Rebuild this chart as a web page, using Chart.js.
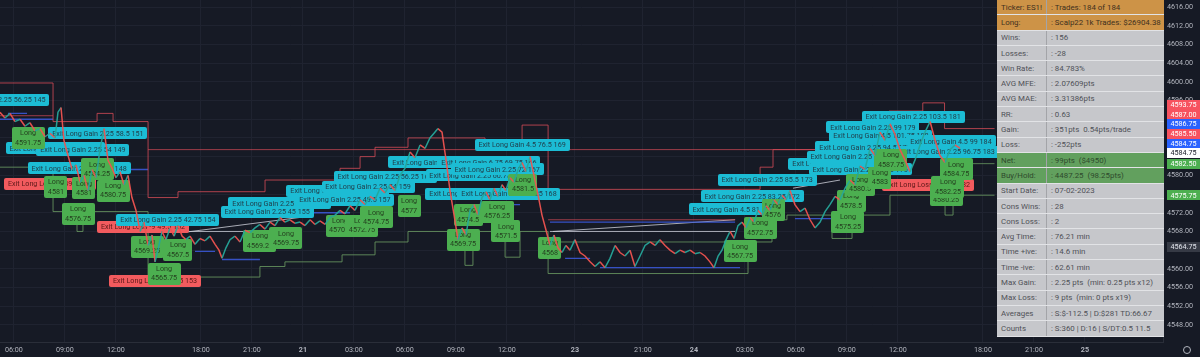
<!DOCTYPE html>
<html>
<head>
<meta charset="utf-8">
<title>ES1! Scalp22</title>
<script src="https://cdn.jsdelivr.net/npm/chart.js@4.4.1/dist/chart.umd.min.js"></script>
<style>
  html, body { margin: 0; padding: 0; background: #161a25; overflow: hidden; }
  #wrap { position: relative; width: 1200px; height: 357px; }
  #stats { position: absolute; left: 997px; top: 0; width: 167px; font-family: Roboto, sans-serif; font-size: 7.9px; }
  .row { display: flex; height: 15.3px; box-sizing: border-box; border-bottom: 1px solid #e2e3e6; background: #c6c7cb; color: #4f5157; }
  .row div { display: flex; align-items: center; padding-left: 4px; box-sizing: border-box; white-space: pre; }
  .row .k { width: 50px; flex: none; border-right: 1px solid #a3a4a8; }
  .row.orange { background: #cd9347; color: #3e3020; }
  .row.green { background: #62a05e; color: #2e4a2c; }
  #gear { position: absolute; left: 1183px; top: 346px; width: 6px; height: 6px; border: 1px solid #b2b5be; border-radius: 50%; }
</style>
</head>
<body>
<div id="wrap">
  <canvas id="chart" width="1200" height="357"></canvas>
  <div id="stats"></div>
  <div id="gear"></div>
</div>
<script>
// time axis (trading hours from the left edge)
const tickHours = [0.82, 3.82, 6.82, 11.82, 14.82, 17.82, 20.82, 23.82, 26.82, 29.82, 33.82, 37.82, 40.82, 43.82, 46.82, 49.82, 52.82, 57.82, 60.82, 63.82];
const tickTexts = ["06:00", "09:00", "12:00", "18:00", "21:00", "21", "03:00", "06:00", "09:00", "12:00", "23", "21:00", "24", "03:00", "06:00", "09:00", "12:00", "18:00", "21:00", "25"];
const priceTicks = [4548, 4552, 4556, 4560, 4564, 4568, 4572, 4576, 4580, 4584, 4588, 4592, 4596, 4600, 4604, 4608, 4612, 4616];

// ES1! price path
const priceHours = [
  0.00, 0.29, 0.59, 0.88, 1.18, 1.47, 1.76, 2.06, 2.35, 2.65,
  2.94, 3.24, 3.41, 3.59, 3.76, 4.00, 4.24, 4.47, 4.71, 4.94,
  5.18, 5.41, 5.65, 5.88, 6.12, 6.35, 6.59, 6.82, 7.06, 7.29,
  7.53, 7.76, 8.00, 8.24, 8.47, 8.71, 8.94, 9.12, 9.29, 9.53,
  9.76, 10.00, 10.24, 10.47, 10.71, 10.94, 11.18, 11.47, 11.76, 12.06,
  12.35, 12.65, 12.88, 13.06, 13.29, 13.53, 13.82, 14.12, 14.41, 14.71,
  15.00, 15.29, 15.59, 15.88, 16.18, 16.47, 16.76, 17.06, 17.35, 17.65,
  17.94, 18.24, 18.53, 18.82, 19.12, 19.41, 19.71, 20.00, 20.29, 20.59,
  20.88, 21.18, 21.47, 21.76, 22.06, 22.35, 22.65, 22.94, 23.24, 23.53,
  23.82, 24.12, 24.41, 24.71, 25.00, 25.29, 25.53, 25.76, 26.00, 26.24,
  26.47, 26.71, 26.94, 27.18, 27.41, 27.65, 27.88, 28.12, 28.35, 28.59,
  28.82, 29.06, 29.29, 29.53, 29.76, 30.00, 30.24, 30.47, 30.71, 30.94,
  31.18, 31.41, 31.65, 31.88, 32.12, 32.35, 32.59, 32.82, 33.06, 33.29,
  33.53, 33.82, 34.12, 34.41, 34.71, 35.00, 35.29, 35.59, 35.88, 36.18,
  36.47, 36.76, 37.06, 37.35, 37.65, 37.94, 38.24, 38.53, 38.82, 39.12,
  39.41, 39.71, 40.00, 40.29, 40.59, 40.88, 41.18, 41.47, 41.76, 42.00,
  42.24, 42.47, 42.71, 42.94, 43.18, 43.41, 43.65, 43.88, 44.12, 44.35,
  44.59, 44.82, 45.06, 45.29, 45.53, 45.76, 46.00, 46.24, 46.47, 46.76,
  47.06, 47.35, 47.65, 47.94, 48.24, 48.53, 48.82, 49.12, 49.41, 49.71,
  50.00, 50.29, 50.59, 50.88, 51.18, 51.47, 51.76, 52.06, 52.35, 52.65,
  52.94, 53.24, 53.53, 53.82, 54.12, 54.41, 54.71, 55.00, 55.29, 55.59,
  55.88, 56.18, 56.47
];
const priceCloses = [
  4593.5, 4592.25, 4593.25, 4591.5, 4592, 4590.5, 4591.25, 4589.5, 4590, 4588.25,
  4589, 4588, 4593.5, 4594.5, 4587.5, 4584.25, 4581.25, 4582.25, 4578.5, 4580,
  4576.75, 4581.25, 4579.5, 4585.5, 4590, 4583.25, 4581.5, 4579.5, 4580.75, 4578,
  4580, 4575.25, 4572.5, 4568, 4570, 4565, 4567.25, 4561.5, 4564, 4568,
  4566.25, 4568.75, 4567, 4569.25, 4567, 4566.25, 4567, 4565.25, 4566.5, 4566,
  4567, 4565.25, 4564, 4562.25, 4564.5, 4566.25, 4567, 4565.75, 4568.25, 4567.75,
  4568.75, 4569.5, 4568.5, 4570, 4569.25, 4571, 4570, 4570.5, 4569.75, 4570,
  4569.25, 4570.5, 4569.5, 4570.25, 4569.5, 4571, 4571.5, 4572.5, 4571.75, 4573.5,
  4572.5, 4574.75, 4573.75, 4575.5, 4574.75, 4577.25, 4576.25, 4578, 4576.75, 4580,
  4581.5, 4585, 4583.75, 4586.5, 4585.75, 4588, 4589, 4590, 4589.25, 4583.25,
  4576.75, 4571.5, 4566.25, 4568.75, 4567.25, 4572.5, 4573.75, 4571.5, 4575.25, 4576.5,
  4574.75, 4577.25, 4575.5, 4578, 4576.75, 4579.5, 4578.5, 4581.25, 4582.75, 4580.75,
  4584, 4580, 4575.75, 4571.5, 4568.25, 4565, 4567.25, 4564.5, 4563.5, 4565,
  4564, 4566.25, 4563.5, 4562.75, 4561.5, 4560.5, 4561.5, 4560.25, 4562.25, 4565,
  4563.5, 4562.75, 4564, 4560.5, 4562.75, 4565, 4565.75, 4565, 4566.25, 4565,
  4564, 4563.25, 4564, 4563.5, 4564, 4563.25, 4563.5, 4562.75, 4561.5, 4560.25,
  4562.75, 4564, 4566.25, 4568, 4566.5, 4569.25, 4570, 4568.75, 4571, 4570,
  4572.5, 4571.5, 4573.5, 4572.5, 4574.75, 4573.75, 4575.75, 4574.75, 4576.75, 4573.75,
  4572.25, 4573, 4570.5, 4568.75, 4570, 4572.25, 4573.75, 4575.5, 4574.75, 4577.25,
  4579, 4578, 4582, 4581.25, 4585.75, 4584.25, 4589.25, 4587.5, 4591, 4588.75,
  4585.5, 4583.25, 4580.75, 4583.25, 4586.5, 4589.25, 4591.5, 4587.5, 4584.25, 4582.75,
  4585.5, 4586.5, 4585.75
];

// strategy levels (step lines)
const targetHours = [0, 3.12, 5.71, 6.65, 8.71, 10.47, 15.59, 20.00, 21.18, 22.06, 24.00, 28.53, 30.71, 32.24, 44.71, 45.47, 52.29, 54.28, 55.56, 58.5];
const targetLevels = [4599.75, 4591.5, 4593.25, 4591.5, 4575.25, 4576.5, 4579, 4581.5, 4584, 4586, 4588, 4585.5, 4590.75, 4577, 4581.75, 4585.5, 4593.75, 4595.5, 4590, 4590];
const stopHours = [0, 3.12, 4.53, 4.88, 8.71, 15.29, 16.76, 20.12, 22.06, 24.00, 27.35, 27.82, 29.71, 30.59, 32.24, 44.00, 45.41, 46.29, 48.94, 50.12, 52.35, 55.59, 56.06, 58.5];
const stopLevels = [4581.75, 4572.25, 4568, 4572.25, 4558.25, 4560.5, 4561.5, 4563, 4565.75, 4568, 4560.75, 4568, 4562.5, 4568, 4559, 4565.75, 4570.5, 4571.5, 4566.5, 4571.5, 4575.75, 4571.5, 4575.75, 4575.75];
// [from, to, level]
const redLevels = [[8.71, 58.5, 4585.5], [32.24, 43.24, 4570.5], [0, 3.12, 4592.75], [55.56, 58.5, 4587]];
const greenLevels = [[32.24, 43.24, 4565.75], [56.47, 58.5, 4582.5]];
const blueLevels = [[0.47, 1.59, 4593.25], [0, 3.12, 4592], [6.65, 8.71, 4581.25], [11.47, 12.65, 4563.75], [13.06, 15.29, 4562],
  [17.65, 20.59, 4572], [29.41, 30.59, 4573.75], [33.24, 34.71, 4562.25], [35.29, 43.53, 4560.25], [32.35, 43.24, 4570],
  [46.76, 49.12, 4570.75], [52.94, 58.5, 4586.75], [51.18, 58.5, 4584.75]];
// [from, price, to, price]
const whiteLinks = [[10.71, 4567.75, 17.65, 4571], [10.59, 4568, 15.29, 4568], [32.53, 4568, 43.24, 4570.5],
  [32.35, 4568, 43.24, 4568], [46.65, 4577.25, 49.41, 4579], [52.94, 4584.75, 58.5, 4584.75]];

// trade labels
const lossHours = [2.94, 8.41, 9.12, 54.59];
const lossPrices = [4578.25, 4569, 4557.5, 4578];
const lossTexts = ["Exit Long Loss -9 49.5 147", "Exit Long Loss -9 49.5 152", "Exit Long Loss -9 40.5 153", "Exit Long Loss -9 94.5 182"];

const gainHours = [-0.12, 3.24, 4.65, 4.88, 5.76, 9.88, 15.71, 16.47, 20.29, 19.88, 21.65, 22.65, 27.94, 28.06, 25.29, 28.76,
  29.24, 29.94, 30.71, 43.12, 44.24, 45.12, 49.41, 50.18, 50.59, 50.88, 51.35, 51.82, 53.71, 55.71, 55.94];
const gainPrices = [4596.1, 4585.75, 4581.5, 4585.5, 4589, 4570.5, 4572.25, 4574, 4574.75, 4576.75, 4577.5, 4579.75, 4576, 4580, 4582.75, 4582.75,
  4581.25, 4576, 4586.5, 4572.75, 4575.5, 4579, 4582.5, 4584, 4581.25, 4586, 4590.25, 4588.5, 4592.5, 4585, 4587.25];
const gainTexts = [
  "Exit Long Gain 2.25 56.25 145", "Exit Long Gain 2.25 58.5 146", "Exit Long Gain 2.25 51.75 148", "Exit Long Gain 2.25 54 149",
  "Exit Long Gain 2.25 58.5 151", "Exit Long Gain 2.25 42.75 154", "Exit Long Gain 2.25 45 155", "Exit Long Gain 2.25 47.25 156",
  "Exit Long Gain 2.25 49.5 157", "Exit Long Gain 2.25 51.75 158", "Exit Long Gain 2.25 54 159", "Exit Long Gain 2.25 56.25 160",
  "Exit Long Gain 2.25 58.5 161", "Exit Long Gain 2.25 60.75 162", "Exit Long Gain 7 63 165", "Exit Long Gain 6.75 69.75 166",
  "Exit Long Gain 2.25 72 167", "Exit Long Gain 2.25 74.25 168", "Exit Long Gain 4.5 76.5 169", "Exit Long Gain 4.5 81 171",
  "Exit Long Gain 2.25 83.25 172", "Exit Long Gain 2.25 85.5 173", "Exit Long Gain 2.25 87.75 174", "Exit Long Gain 2.25 90 175",
  "Exit Long Gain 2.25 92.25 176", "Exit Long Gain 2.25 94.5 177", "Exit Long Gain 2.25 99 179", "Exit Long Gain 4.5 101.75 180",
  "Exit Long Gain 2.25 103.5 181", "Exit Long Gain 2.25 96.75 183", "Exit Long Gain 4.5 99 184"
];

const entryHours = [1.65, 3.29, 4.94, 5.71, 6.65, 4.59, 8.65, 10.47, 9.65, 15.29, 16.82, 20.00, 21.29, 22.12, 24.06, 27.53,
  27.24, 29.24, 29.76, 30.76, 32.35, 43.53, 44.71, 45.47, 49.88, 50.06, 50.59, 51.76, 52.41, 55.65, 55.76, 56.24];
const entryPrices = [4588, 4577.5, 4577.25, 4581.25, 4576.75, 4571.75, 4564.75, 4564, 4559, 4566, 4566.5, 4569.25, 4569.25, 4571, 4573.5, 4571.5,
  4566.25, 4572.25, 4568, 4578, 4564.5, 4563.75, 4568.75, 4572.5, 4570, 4574.5, 4578, 4579.5, 4583.25, 4575.75, 4577.5, 4581.25];
const entryTexts = ["4591.75", "4581", "4581", "4584.25", "4580.75", "4576.75", "4569.25", "4567.5", "4565.75", "4569.25", "4569.75", "4570.5",
  "4572.75", "4574.75", "4577", "4574.5", "4569.75", "4576.25", "4571.5", "4581.5", "4568", "4567.75", "4572.75", "4576",
  "4575.25", "4578.5", "4580.5", "4583", "4587.75", "4580.25", "4582.25", "4584.75"];

// price tags on the right axis, bottom to top
const tagPrices = [4564.75, 4575.75, 4582.5, 4584.75, 4584.75, 4585.5, 4586.75, 4587, 4593.75];
const tagFills = ["#363a45", "#4caf50", "#4caf50", "#ffffff", "#2962ff", "#f7525f", "#2962ff", "#f7525f", "#f7525f"];
const tagInks = ["#e0e3eb", "#ffffff", "#ffffff", "#131722", "#ffffff", "#ffffff", "#ffffff", "#ffffff", "#ffffff"];

// stats table
const statNames = ["Ticker: ES1!", "Long:", "Wins:", "Losses:", "Win Rate:", "AVG MFE:", "AVG MAE:", "RR:", "Gain:", "Loss:", "Net:",
  "Buy/Hold:", "Start Date:", "Cons Wins:", "Cons Loss:", "Avg Time:", "Time +ive:", "Time -ive:", "Max Gain:", "Max Loss:", "Averages", "Counts"];
const statValues = [": Trades: 184 of 184", ": Scalp22 1k Trades: $26904.38", ": 156", ": -28", ": 84.783%", ": 2.07609pts", ": 3.31386pts",
  ": 0.63", ": 351pts  0.54pts/trade", ": -252pts", ": 99pts  ($4950)", ": 4487.25  (98.25pts)", ": 07-02-2023", ": 28", ": 2",
  ": 76.21 min", ": 14.6 min", ": 62.61 min", ": 2.25 pts  (min: 0.25 pts x12)", ": 9 pts  (min: 0 pts x19)",
  ": S:$-112.5 | D:$281 TD:66.67", ": S:360 | D:16 | S/DT:0.5 11.5"];

const stats = document.getElementById("stats");
statNames.forEach((name, i) => {
  const row = document.createElement("div");
  row.className = "row" + (i < 2 ? " orange" : (i === 10 || i === 11) ? " green" : "");
  row.innerHTML = `<div class="k">${name}</div><div class="v">${statValues[i]}</div>`;
  stats.appendChild(row);
});

const AXIS = "#b2b5be";
const FONT = "Roboto";

function flat(list) {
  const pts = [];
  list.forEach(([a, b, v]) => pts.push({ x: a, y: v }, { x: b, y: v }, { x: b, y: null }));
  return pts;
}
function links(list) {
  const pts = [];
  list.forEach(([a, p, b, q]) => pts.push({ x: a, y: p }, { x: b, y: q }, { x: b, y: null }));
  return pts;
}

function boxLabel(ctx, cx, cy, text, fill, ink) {
  const w = Math.round(ctx.measureText(text).width + 8), h = 12;
  ctx.fillStyle = fill;
  ctx.beginPath();
  ctx.roundRect(Math.round(cx - w / 2), Math.round(cy - h / 2), w, h, 2);
  ctx.fill();
  ctx.fillStyle = ink;
  ctx.fillText(text, cx, cy + 0.5);
}
function entryLabel(ctx, cx, cy, price) {
  const w = Math.round(Math.max(ctx.measureText("Long").width, ctx.measureText(price).width) + 7), h = 22;
  ctx.fillStyle = "#4caf50";
  ctx.beginPath();
  ctx.roundRect(Math.round(cx - w / 2), Math.round(cy - h / 2), w, h, 2);
  ctx.fill();
  ctx.fillStyle = "#24401f";
  ctx.fillText("Long", cx, cy - 4.5);
  ctx.fillText(price, cx, cy + 5);
}

// labels go under the price line but over the level lines
const tradeLabels = {
  id: "tradeLabels",
  beforeDatasetDraw(chart, args) {
    if (args.index !== 0) return;
    const { ctx, chartArea: a, scales: { x, y } } = chart;
    ctx.save();
    ctx.beginPath();
    ctx.rect(a.left, a.top, a.right - a.left, a.bottom - a.top);
    ctx.clip();
    ctx.font = "7.2px " + FONT;
    ctx.textAlign = "center";
    ctx.textBaseline = "middle";
    lossHours.forEach((t, i) => boxLabel(ctx, x.getPixelForValue(t), y.getPixelForValue(lossPrices[i]), lossTexts[i], "#f25b5e", "#5b1818"));
    gainHours.forEach((t, i) => boxLabel(ctx, x.getPixelForValue(t), y.getPixelForValue(gainPrices[i]), gainTexts[i], "#1cbcd4", "#20404d"));
    entryHours.forEach((t, i) => entryLabel(ctx, x.getPixelForValue(t), y.getPixelForValue(entryPrices[i]), entryTexts[i]));
    ctx.restore();
  }
};

const priceTags = {
  id: "priceTags",
  afterDraw(chart) {
    const { ctx, chartArea: a, scales: { y } } = chart;
    ctx.save();
    ctx.font = "7.2px " + FONT;
    ctx.textAlign = "center";
    ctx.textBaseline = "middle";
    let prev = Infinity;
    tagPrices.forEach((p, i) => {
      const py = Math.min(y.getPixelForValue(p), prev - 9.7);
      prev = py;
      ctx.fillStyle = tagFills[i];
      ctx.fillRect(a.right + 4, Math.round(py - 5), chart.width - a.right - 4, 10);
      ctx.fillStyle = tagInks[i];
      ctx.fillText(p.toFixed(2), (a.right + 4 + chart.width) / 2, py + 0.5);
    });
    ctx.restore();
  }
};

const line = { pointRadius: 0, borderWidth: 1, tension: 0, spanGaps: false, order: 1 };

new Chart(document.getElementById("chart"), {
  type: "line",
  data: {
    datasets: [
      {
        data: priceHours.map((h, i) => ({ x: h, y: priceCloses[i] })),
        pointRadius: 0, borderWidth: 1.5, tension: 0, order: 0,
        borderColor: "#ef5350",
        segment: { borderColor: c => c.p1.parsed.y >= c.p0.parsed.y ? "rgba(38,166,154,0.95)" : "rgba(239,83,80,0.95)" }
      },
      { ...line, data: targetHours.map((h, i) => ({ x: h, y: targetLevels[i] })), stepped: true, borderColor: "rgba(214,76,88,0.8)" },
      { ...line, data: flat(redLevels), borderColor: "rgba(214,76,88,0.7)" },
      { ...line, data: stopHours.map((h, i) => ({ x: h, y: stopLevels[i] })), stepped: true, borderColor: "rgba(104,150,96,0.85)" },
      { ...line, data: flat(greenLevels), borderColor: "rgba(104,150,96,0.8)" },
      { ...line, data: flat(blueLevels), borderColor: "rgba(58,88,214,0.9)", borderWidth: 1.3 },
      { ...line, data: links(whiteLinks), borderColor: "rgba(205,208,218,0.8)" }
    ]
  },
  options: {
    responsive: false,
    animation: false,
    events: [],
    layout: { padding: 0 },
    plugins: { legend: { display: false }, tooltip: { enabled: false } },
    scales: {
      x: {
        type: "linear", min: 0, max: 68.41,
        afterBuildTicks: s => { s.ticks = tickHours.map(v => ({ value: v })); },
        afterFit: s => { s.height = 15; s.paddingLeft = 0; s.paddingRight = 0; },
        grid: { color: "#1f2330", drawTicks: false },
        border: { color: "#2a2e39" },
        ticks: {
          autoSkip: false, maxRotation: 0, padding: 4, color: AXIS,
          font: c => ({ family: FONT, size: 7.2, weight: /^\d\d$/.test(c.tick && c.tick.label) ? "bold" : "normal" }),
          callback: (v, i) => tickTexts[i]
        }
      },
      y: {
        type: "linear", position: "right", min: 4544.36, max: 4617.497,
        afterBuildTicks: s => { s.ticks = priceTicks.map(v => ({ value: v })); },
        afterFit: s => { s.width = 37; s.paddingTop = 0; s.paddingBottom = 0; },
        grid: { color: "#1f2330", drawTicks: false },
        border: { color: "#2a2e39" },
        ticks: {
          autoSkip: false, padding: 4, color: AXIS, crossAlign: "center",
          font: { family: FONT, size: 7.2 },
          callback: v => v.toFixed(2)
        }
      }
    }
  },
  plugins: [tradeLabels, priceTags]
});
</script>
</body>
</html>
